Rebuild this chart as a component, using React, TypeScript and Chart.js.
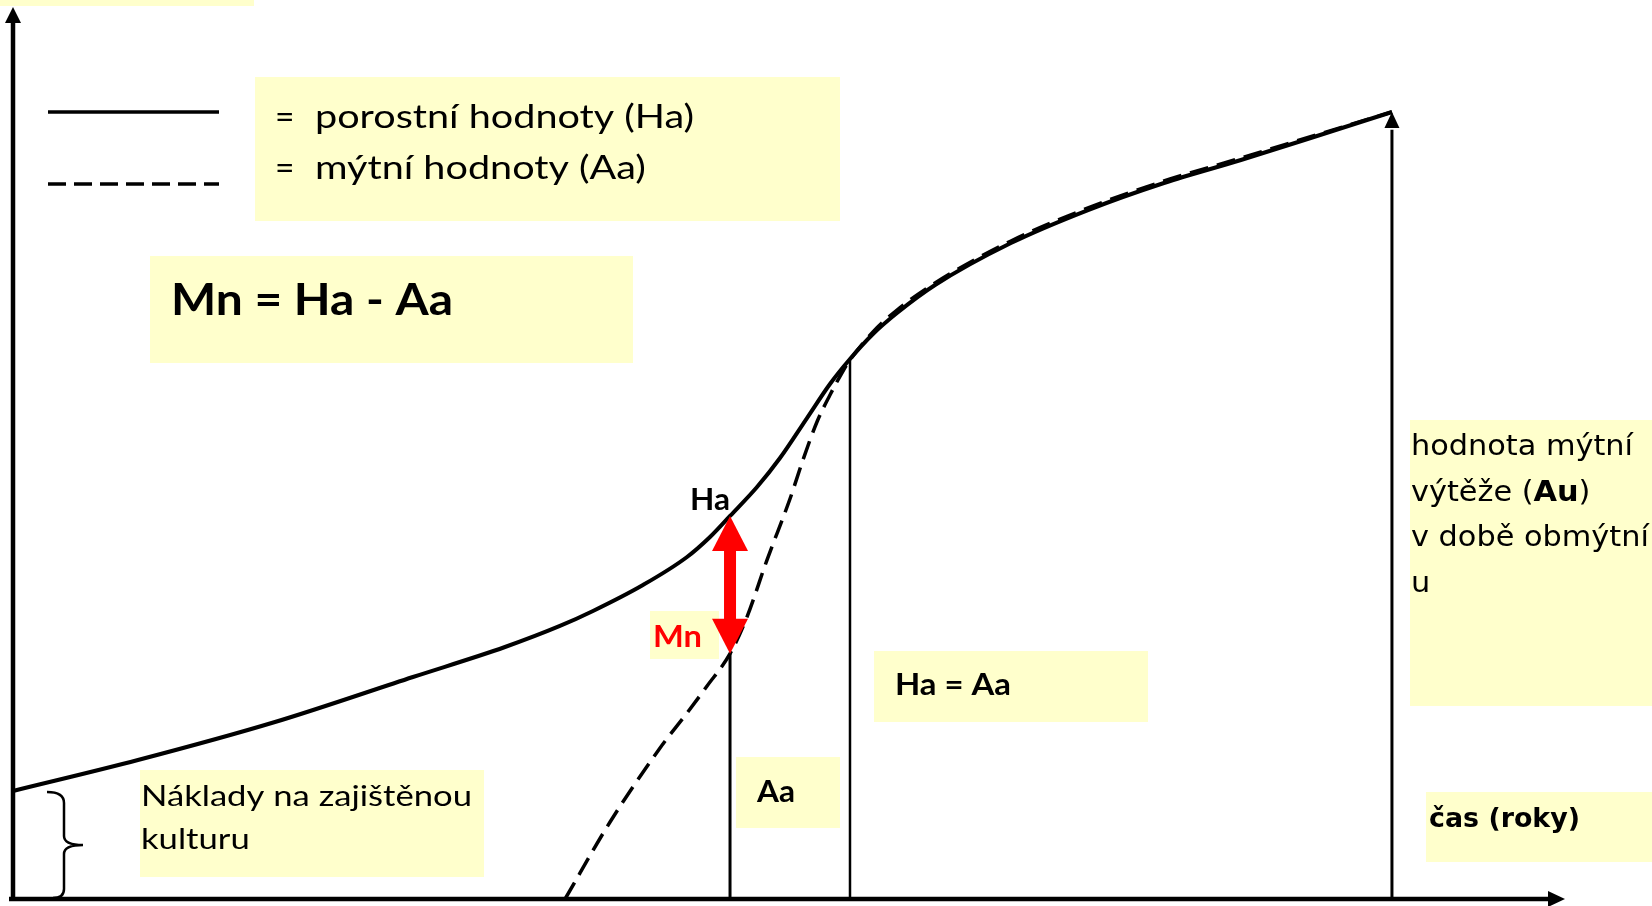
import React, { useEffect, useRef } from "react";
import { Chart, registerables } from "chart.js";

Chart.register(...registerables);

// ---------- data (chart units: x = time 0..100, y = value 0..100) ----------
const X_MAX = 100;
const Y_MAX = 100;

// Ha – porostní hodnoty (solid)
const haX = [0, 8.05, 16.88, 25.77, 31.7, 35.24, 37.37, 40.59, 43.43, 44.91, 46.2, 47.94, 49.42, 51.16, 52.64, 53.93, 55.41, 56.96, 59.41, 64.3, 69.27, 74.16, 79.12, 84.02, 88.85];
const haY = [12.11, 15.58, 19.84, 24.89, 28.25, 30.61, 32.29, 35.2, 38.34, 40.58, 42.94, 46.19, 49.44, 53.92, 57.74, 60.54, 63.34, 65.7, 68.83, 73.54, 77.24, 80.27, 82.85, 85.54, 88.23];

// Aa – mýtní hodnoty (dashed)
const aaX = [35.57, 38.47, 41.69, 43.43, 44.72, 46.2, 47.29, 48.58, 50.06, 50.9, 51.8, 52.64, 53.48, 53.93, 55.41, 56.96, 59.41, 64.3, 69.27, 74.16, 79.12, 84.02, 88.85];
const aaY = [0, 8.63, 16.93, 20.85, 23.88, 27.5, 31.61, 38.0, 44.84, 49.22, 53.48, 56.5, 59.19, 60.43, 63.57, 66.03, 69.06, 73.77, 77.47, 80.49, 83.07, 85.68, 88.23];

// marked ages
const mnX = 46.2; // age where Mn is shown
const mnHa = 42.94;
const mnAa = 27.5;
const eqX = 53.93; // Ha = Aa
const eqY = 60.5;
const rotX = 88.85; // rotation age (obmýtí)
const rotY = 88.23;

// ---------- texts ----------
const legendLabels = ["porostní hodnoty (Ha)", "mýtní hodnoty (Aa)"];
const formulaLabel = "Mn = Ha - Aa";
const haLabel = "Ha";
const mnLabel = "Mn";
const eqLabel = "Ha = Aa";
const aaLabel = "Aa";
const costLines = ["Náklady na zajištěnou", "kulturu"];
const auLines = ["hodnota mýtní", "výtěže (", "Au", ")", "v době obmýtní", "u"];
const timeLabel = "čas (roky)";

const BOX = "#FFFFCC";
const CAL = "Lato, 'Open Sans', sans-serif";
const VER = "'DejaVu Sans', Verdana, sans-serif";

type Run = { t: string; bold?: boolean };
type Block = {
  family: string;
  size: number;
  bold?: boolean;
  color: string;
  x: number;
  y: number;
  lh: number;
  fitWidth?: number;
  lines: Run[][];
};

const BOXES = [
  { x: 0, y: 0, w: 254, h: 6 },
  { x: 255, y: 77, w: 585, h: 144 },
  { x: 150, y: 256, w: 483, h: 107 },
  { x: 650, y: 611, w: 69, h: 48 },
  { x: 874, y: 651, w: 274, h: 71 },
  { x: 736, y: 757, w: 104, h: 71 },
  { x: 140, y: 770, w: 344, h: 107 },
  { x: 1410, y: 420, w: 242, h: 286 },
  { x: 1426, y: 792, w: 226, h: 70 },
];

const BLOCKS: Block[] = [
  { family: CAL, size: 33.5, color: "#000", x: 275, y: 128, lh: 51, lines: [[{ t: "=" }], [{ t: "=" }]] },
  {
    family: CAL, size: 33.5, color: "#000", x: 315, y: 128, lh: 51, fitWidth: 379,
    lines: [[{ t: legendLabels[0] }], [{ t: legendLabels[1] }]],
  },
  { family: CAL, size: 44, bold: true, color: "#000", x: 171, y: 315, lh: 0, fitWidth: 282, lines: [[{ t: formulaLabel }]] },
  { family: CAL, size: 31, bold: true, color: "#000", x: 690, y: 510, lh: 0, fitWidth: 40, lines: [[{ t: haLabel }]] },
  { family: CAL, size: 31, bold: true, color: "#FF0000", x: 653, y: 647, lh: 0, fitWidth: 49, lines: [[{ t: mnLabel }]] },
  { family: CAL, size: 31, bold: true, color: "#000", x: 895, y: 695, lh: 0, fitWidth: 116, lines: [[{ t: eqLabel }]] },
  { family: CAL, size: 31, bold: true, color: "#000", x: 757, y: 802, lh: 0, fitWidth: 38, lines: [[{ t: aaLabel }]] },
  {
    family: CAL, size: 29, color: "#000", x: 141, y: 806, lh: 43, fitWidth: 331,
    lines: [[{ t: costLines[0] }], [{ t: costLines[1] }]],
  },
  {
    family: VER, size: 27.5, color: "#000", x: 1411, y: 455, lh: 45.5, fitWidth: 222,
    lines: [
      [{ t: auLines[0] }],
      [{ t: auLines[1] }, { t: auLines[2], bold: true }, { t: auLines[3] }],
      [{ t: auLines[4] }],
      [{ t: auLines[5] }],
    ],
  },
  { family: VER, size: 26, bold: true, color: "#000", x: 1429, y: 827, lh: 0, fitWidth: 151, lines: [[{ t: timeLabel }]] },
];

function drawBlock(ctx: CanvasRenderingContext2D, b: Block) {
  const fontFor = (bold?: boolean) => `${bold ? "bold " : ""}${b.size}px ${b.family}`;
  const widthOf = (runs: Run[]) =>
    runs.reduce((s, r) => {
      ctx.font = fontFor(r.bold ?? b.bold);
      return s + ctx.measureText(r.t).width;
    }, 0);
  const sx = b.fitWidth ? b.fitWidth / widthOf(b.lines[0]) : 1;
  ctx.save();
  ctx.fillStyle = b.color;
  ctx.textBaseline = "alphabetic";
  ctx.textAlign = "left";
  b.lines.forEach((runs, i) => {
    ctx.save();
    ctx.translate(b.x, b.y + i * b.lh);
    ctx.scale(sx, 1);
    let cx = 0;
    for (const r of runs) {
      ctx.font = fontFor(r.bold ?? b.bold);
      ctx.fillText(r.t, cx, 0);
      cx += ctx.measureText(r.t).width;
    }
    ctx.restore();
  });
  ctx.restore();
}

function arrowHead(ctx: CanvasRenderingContext2D, tx: number, ty: number, dx: number, dy: number, len: number, half: number) {
  const bx = tx - dx * len;
  const by = ty - dy * len;
  const nx = -dy;
  const ny = dx;
  ctx.beginPath();
  ctx.moveTo(tx, ty);
  ctx.lineTo(bx + nx * half, by + ny * half);
  ctx.lineTo(bx - nx * half, by - ny * half);
  ctx.closePath();
  ctx.fill();
}

const decorPlugin = {
  id: "decor",
  beforeDatasetsDraw(chart: any) {
    const ctx: CanvasRenderingContext2D = chart.ctx;
    ctx.save();
    ctx.fillStyle = BOX;
    for (const b of BOXES) ctx.fillRect(b.x, b.y, b.w, b.h);
    ctx.restore();
  },
  afterDatasetsDraw(chart: any) {
    const ctx: CanvasRenderingContext2D = chart.ctx;
    const xs = chart.scales.x;
    const ys = chart.scales.y;
    const px = (v: number) => xs.getPixelForValue(v);
    const py = (v: number) => ys.getPixelForValue(v);
    ctx.save();
    ctx.strokeStyle = "#000";
    ctx.fillStyle = "#000";

    // axes
    ctx.lineWidth = 4.5;
    ctx.beginPath();
    ctx.moveTo(px(0), py(0) + 2);
    ctx.lineTo(px(0), py(Y_MAX) + 14);
    ctx.stroke();
    arrowHead(ctx, px(0), py(Y_MAX), 0, -1, 16, 8);
    ctx.beginPath();
    ctx.moveTo(px(0) - 4, py(0));
    ctx.lineTo(px(X_MAX) - 14, py(0));
    ctx.stroke();
    arrowHead(ctx, px(X_MAX), py(0), 1, 0, 17, 8);

    // arrowhead on rotation line
    arrowHead(ctx, px(rotX), py(rotY), 0, -1, 16, 7.5);

    // legend samples
    ctx.lineWidth = 3.5;
    ctx.beginPath();
    ctx.moveTo(48, 112);
    ctx.lineTo(219, 112);
    ctx.stroke();
    ctx.setLineDash([18, 8]);
    ctx.beginPath();
    ctx.moveTo(48, 184);
    ctx.lineTo(219, 184);
    ctx.stroke();
    ctx.setLineDash([]);

    // brace (initial costs)
    const top = py(haY[0]);
    const bot = py(0);
    const mid = (top + bot) / 2;
    const x0 = 47, xm = 64, xt = 83;
    ctx.lineWidth = 2.5;
    ctx.beginPath();
    ctx.moveTo(x0, top + 1);
    ctx.quadraticCurveTo(xm, top + 1, xm, top + 12);
    ctx.lineTo(xm, mid - 9);
    ctx.quadraticCurveTo(xm, mid, xt, mid);
    ctx.quadraticCurveTo(xm, mid, xm, mid + 9);
    ctx.lineTo(xm, bot - 10);
    ctx.quadraticCurveTo(xm, bot - 1, x0 + 6, bot - 1);
    ctx.stroke();

    // red double arrow Mn
    const ax = px(mnX);
    const at = py(mnHa);
    const ab = py(mnAa);
    ctx.fillStyle = "#FF0000";
    ctx.fillRect(ax - 6, at + 34, 12, ab - at - 68);
    arrowHead(ctx, ax, at, 0, -1, 35, 18);
    arrowHead(ctx, ax, ab, 0, 1, 35, 18);
    ctx.restore();

    for (const b of BLOCKS) drawBlock(ctx, b);
  },
};

export default function App() {
  const ref = useRef<HTMLCanvasElement | null>(null);

  useEffect(() => {
    document.body.style.margin = "0";
    const canvas = ref.current;
    if (!canvas) return;
    const line = (xsArr: number[], ysArr: number[]) => xsArr.map((x, i) => ({ x, y: ysArr[i] }));
    const chart = new Chart(canvas, {
      type: "line",
      data: {
        datasets: [
          {
            label: "porostní hodnoty (Ha)",
            data: line(haX, haY),
            borderColor: "#000",
            borderWidth: 4,
            pointRadius: 0,
            cubicInterpolationMode: "monotone",
            fill: false,
            clip: false as any,
          },
          {
            label: "mýtní hodnoty (Aa)",
            data: line(aaX, aaY),
            borderColor: "#000",
            borderWidth: 3.5,
            borderDash: [19, 9],
            pointRadius: 0,
            cubicInterpolationMode: "monotone",
            fill: false,
            clip: false as any,
          },
          {
            label: "Aa",
            data: line([mnX, mnX], [0, mnAa]),
            borderColor: "#000",
            borderWidth: 3,
            pointRadius: 0,
            clip: false as any,
          },
          {
            label: "Ha = Aa",
            data: line([eqX, eqX], [0, eqY]),
            borderColor: "#000",
            borderWidth: 2.5,
            pointRadius: 0,
            clip: false as any,
          },
          {
            label: "Au",
            data: line([rotX, rotX], [0, rotY - 2]),
            borderColor: "#000",
            borderWidth: 3,
            pointRadius: 0,
            clip: false as any,
          },
        ],
      },
      options: {
        animation: false,
        responsive: false,
        devicePixelRatio: 1,
        layout: { padding: { left: 13, top: 7, right: 87, bottom: 7 } },
        scales: {
          x: { type: "linear", min: 0, max: X_MAX, display: false },
          y: { type: "linear", min: 0, max: Y_MAX, display: false },
        },
        plugins: {
          legend: { display: false },
          tooltip: { enabled: false },
          title: { display: false },
        },
      },
      plugins: [decorPlugin],
    });
    return () => chart.destroy();
  }, []);

  return (
    <div style={{ position: "fixed", left: 0, top: 0, width: 1652, height: 906, background: "#fff" }}>
      <canvas ref={ref} width={1652} height={906} style={{ display: "block" }} />
    </div>
  );
}
